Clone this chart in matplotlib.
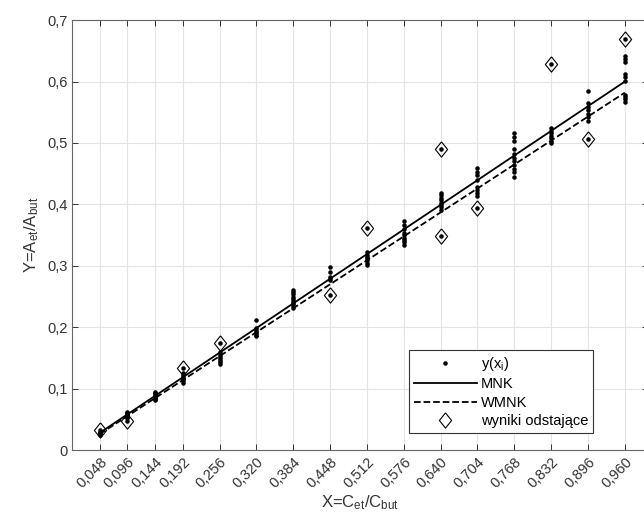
import matplotlib
matplotlib.use("Agg")
from matplotlib import pyplot as plt

plt.rcParams["font.family"] = ["Liberation Sans", "DejaVu Sans"]
plt.rcParams["mathtext.default"] = "regular"

x_levels = [0.048, 0.096, 0.144, 0.192, 0.256, 0.320, 0.384, 0.448,
            0.512, 0.576, 0.640, 0.704, 0.768, 0.832, 0.896, 0.960]

# measured y(x_i) for each x level
y_points = [
    [0.024, 0.026, 0.027, 0.028, 0.030, 0.033],
    [0.048, 0.052, 0.054, 0.056, 0.058, 0.060, 0.062],
    [0.081, 0.083, 0.085, 0.087, 0.089, 0.091, 0.093, 0.095],
    [0.109, 0.112, 0.115, 0.118, 0.120, 0.123, 0.125, 0.133],
    [0.140, 0.143, 0.147, 0.150, 0.153, 0.156, 0.160, 0.174],
    [0.185, 0.188, 0.191, 0.193, 0.195, 0.198, 0.211],
    [0.231, 0.234, 0.237, 0.240, 0.243, 0.246, 0.250, 0.254, 0.258, 0.261],
    [0.252, 0.277, 0.280, 0.282, 0.290, 0.298],
    [0.301, 0.305, 0.309, 0.312, 0.315, 0.318, 0.323, 0.361],
    [0.334, 0.338, 0.342, 0.346, 0.350, 0.354, 0.360, 0.366, 0.373],
    [0.349, 0.391, 0.395, 0.399, 0.403, 0.407, 0.411, 0.415, 0.418, 0.490],
    [0.394, 0.413, 0.418, 0.423, 0.429, 0.440, 0.448, 0.453, 0.459],
    [0.445, 0.452, 0.458, 0.464, 0.470, 0.476, 0.482, 0.490, 0.503, 0.510, 0.516],
    [0.500, 0.504, 0.508, 0.512, 0.516, 0.520, 0.524, 0.628],
    [0.506, 0.535, 0.543, 0.548, 0.553, 0.558, 0.565, 0.585],
    [0.567, 0.571, 0.575, 0.578, 0.601, 0.608, 0.612, 0.632, 0.637, 0.642, 0.669],
]

outlier_x = [0.048, 0.096, 0.192, 0.256, 0.448, 0.512, 0.640, 0.640, 0.704, 0.832, 0.896, 0.960]
outlier_y = [0.033, 0.048, 0.133, 0.174, 0.252, 0.361, 0.490, 0.349, 0.394, 0.628, 0.506, 0.669]

line_x = [0.048, 0.960]
mnk_y = [0.028, 0.600]
wmnk_y = [0.026, 0.582]

tick_labels = [("%.3f" % v).replace(".", ",") for v in x_levels]
y_ticks = [0, 0.1, 0.2, 0.3, 0.4, 0.5, 0.6, 0.7]
y_tick_labels = ["0", "0,1", "0,2", "0,3", "0,4", "0,5", "0,6", "0,7"]

# slightly narrow diamond, like the MATLAB one
diamond = [(0, 1), (0.8, 0), (0, -1), (-0.8, 0), (0, 1)]

fig = plt.figure(figsize=(6.44, 5.31), dpi=100)
ax = fig.add_axes([0.112, 0.1525, 0.894, 0.8095])

px = []
py = []
for xv, ys in zip(x_levels, y_points):
    for yv in ys:
        px.append(xv)
        py.append(yv)

ax.plot(px, py, ".", color="black", markersize=4.5, label="y(x$_i$)", zorder=3)
ax.plot(line_x, mnk_y, "-", color="black", linewidth=1.3, label="MNK", zorder=4)
ax.plot(line_x, wmnk_y, "--", color="black", linewidth=1.3, label="WMNK", zorder=4)
ax.plot(outlier_x, outlier_y, linestyle="none", marker=diamond, markerfacecolor="none",
        markeredgecolor="black", markersize=11, markeredgewidth=0.8,
        label="wyniki odstające", zorder=3)

ax.set_xlim(0, 1)
ax.set_ylim(0, 0.7)
ax.set_xticks(x_levels)
ax.set_xticklabels(tick_labels, rotation=45, ha="right", rotation_mode="anchor")
ax.set_yticks(y_ticks)
ax.set_yticklabels(y_tick_labels)
ax.grid(True, color="#e3e3e3", linewidth=0.8)
ax.set_axisbelow(True)
ax.tick_params(direction="in", top=True, right=True, labelsize=10.5,
               colors="#333333", length=4, width=0.7)
for s in ax.spines.values():
    s.set_color("#666666")
    s.set_linewidth(0.8)

ax.set_xlabel("X=C$_{et}$/C$_{but}$", fontsize=12, color="#333333", labelpad=2)
ax.set_ylabel("Y=A$_{et}$/A$_{but}$", fontsize=12, color="#333333", labelpad=4)

leg = ax.legend(loc="lower right", bbox_to_anchor=(0.918, 0.022), fancybox=False,
                framealpha=1, edgecolor="#333333", fontsize=10.5, handlelength=4.3,
                borderpad=0.35, labelspacing=0.3, handletextpad=0.3)
leg.get_frame().set_linewidth(0.8)

fig.savefig("out.png", dpi=100)
